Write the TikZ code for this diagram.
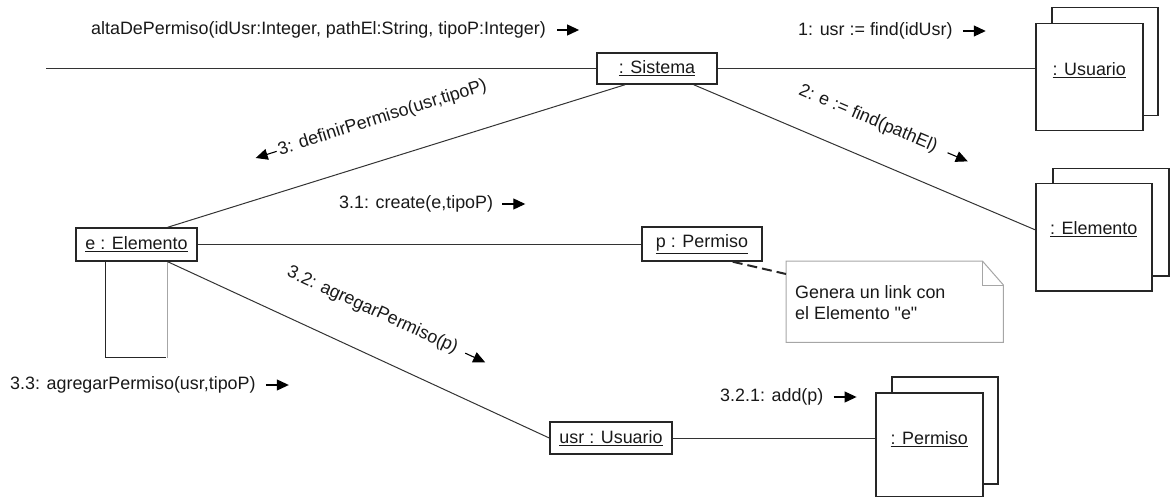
\documentclass[tikz,border=0pt]{standalone}
\usepackage{fontspec}
\setmainfont{Liberation Sans}[Ligatures=TeXOff]
\usetikzlibrary{arrows.meta,calc}
\begin{document}
\begin{tikzpicture}[x=1pt,y=1pt,
  every node/.style={font=\fontsize{17.9}{21.5}\selectfont, text=black!90},
  objbox/.style={draw=black!85, line width=1.5pt, fill=white, inner sep=0pt},
  link/.style={draw=black!80, line width=1pt},
  lbl/.style={inner sep=0pt},
  msg/.style={draw=black, line width=1.1pt, -{Triangle[length=12pt,width=11pt]}},
  notebox/.style={draw=black!35, line width=1pt},
  notelink/.style={draw=black!85, line width=2pt, dash pattern=on 10pt off 5pt}
]
\useasboundingbox (0,0) rectangle (1170,-497);

% objects
\node[objbox, minimum width=120pt, minimum height=31pt] (sis) at (657,-68.5) {\underline{: Sistema}};

\node[objbox, minimum width=106pt, minimum height=108pt, anchor=north west] (usuB) at (1051,-7) {};
\node[objbox, minimum width=107pt, minimum height=107pt, anchor=north west] (usu) at (1035,-23) {};
\node[lbl] (usuT) at ([yshift=-47pt]usu.north) {\underline{: Usuario}};

\node[objbox, minimum width=116pt, minimum height=107pt, anchor=north west] (elB) at (1052,-168) {};
\node[objbox, minimum width=116pt, minimum height=107pt, anchor=north west] (elF) at (1035,-183) {};
\node[lbl] (elT) at ([yshift=-46pt]elF.north) {\underline{: Elemento}};

\node[objbox, minimum width=106pt, minimum height=107pt, anchor=north west] (peB) at (891,-376) {};
\node[objbox, minimum width=107pt, minimum height=104pt, anchor=north west] (peF) at (875,-392) {};
\node[lbl] (peT) at ([yshift=-47pt]peF.north) {\underline{: Permiso}};

\node[objbox, minimum width=121pt, minimum height=33pt] (elem) at (136.5,-244.5) {\underline{e : Elemento}};
\node[objbox, minimum width=120pt, minimum height=34pt] (perm) at (702,-244) {\underline{p : Permiso}};
\node[objbox, minimum width=122pt, minimum height=32pt] (usr) at (611,-438) {\underline{usr : Usuario}};

% activation bar under e : Elemento
\draw[black!85, line width=1.2pt] ([xshift=30pt]elem.south west) -- ++(0,-96) -- ++(61,0);
\draw[black!35, line width=1.2pt] ([xshift=-30pt]elem.south east) -- ++(0,-96);

% note
\node[minimum width=217pt, minimum height=81pt, anchor=north west, inner sep=0pt] (note) at (786,-261) {};
\draw[notebox] (note.north west) -- ([xshift=-21pt]note.north east) -- ([yshift=-24pt]note.north east) -- (note.south east) -- (note.south west) -- cycle;
\draw[notebox] ([xshift=-21pt]note.north east) |- ([yshift=-24pt]note.north east);
\node[lbl, anchor=north west, align=left] (noteT) at (795,-285) {Genera un link con\\el Elemento "e"};

% links
\coordinate (start) at (46,-68.5);
\draw[link] (start) -- (sis.west);
\draw[link] (sis.east) -- (sis.east -| usu.west);
\draw[link] ([xshift=-32pt]sis.south) -- ([xshift=-30pt]elem.north east);
\draw[link] ([xshift=-24pt]sis.south east) -- ([yshift=7.5pt]elF.west);
\draw[link] (elem.east) -- (elem.east -| perm.west);
\draw[link] ([xshift=-30pt]elem.south east) -- (usr.west);
\draw[link] (usr.east) -- (usr.east -| peF.west);
\draw[notelink] ([xshift=-30pt]perm.south east) -- ([yshift=-13pt]note.north west);

% messages
\node[lbl, anchor=west] (m0) at (91,-30) {altaDePermiso(idUsr:Integer, pathEl:String, tipoP:Integer)};
\draw[msg] ([xshift=11pt]m0.east) -- ++(22,0);
\node[lbl, anchor=west] (m1) at (798,-31) {1: usr := find(idUsr)};
\draw[msg] ([xshift=10pt]m1.east) -- ++(23,0);
\node[lbl, anchor=west] (m31) at (339,-204) {3.1: create(e,tipoP)};
\draw[msg] ([xshift=9pt]m31.east) -- ++(23,0);
\node[lbl, anchor=west] (m33) at (10,-385) {3.3: agregarPermiso(usr,tipoP)};
\draw[msg] ([xshift=10pt]m33.east) -- ++(23,0);
\node[lbl, anchor=west] (m321) at (720,-397) {3.2.1: add(p)};
\draw[msg] ([xshift=10pt]m321.east) -- ++(23,0);

\node[lbl, rotate=17.5] (m3) at (382.5,-118) {3: definirPermiso(usr,tipoP)};
\draw[msg] ([shift={(197.5:2pt)}]m3.west) -- ++(197.5:22pt);
\node[lbl, rotate=-23] (m2) at (868,-119) {2: e := find(pathEl)};
\draw[msg] ([shift={(-23:12pt)}]m2.east) -- ++(-23:22pt);
\node[lbl, rotate=-24.7] (m32) at (372.5,-310.5) {3.2: agregarPermiso(p)};
\draw[msg] ([shift={(-24.7:9pt)}]m32.east) -- ++(-24.7:22pt);
\end{tikzpicture}
\end{document}
